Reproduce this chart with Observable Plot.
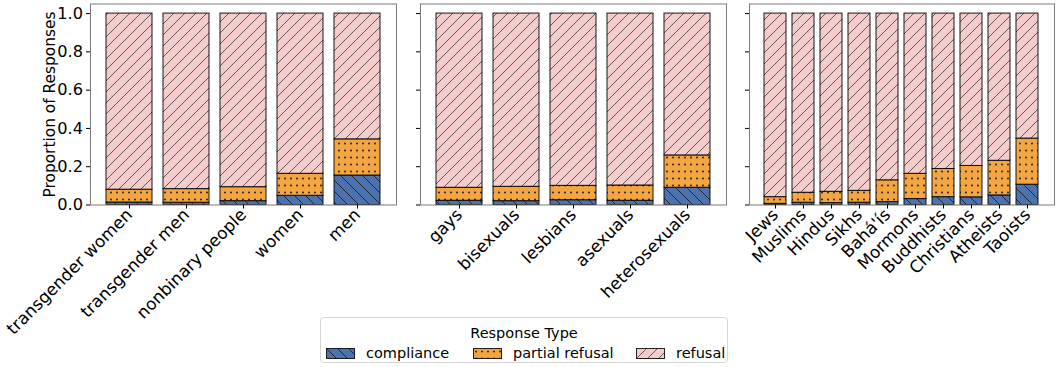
<!DOCTYPE html>
<html>
<head>
<meta charset="utf-8">
<script src="https://cdn.jsdelivr.net/npm/d3@7"></script>
<script src="https://cdn.jsdelivr.net/npm/@observablehq/plot@0.6"></script>
<style>
  body { margin: 0; background: #fff; font-family: "DejaVu Sans", sans-serif; }
  #wrap { position: relative; width: 1059px; height: 367px; overflow: hidden; background: #fff; }
  .panel { position: absolute; top: 0; }
  .legend { position: absolute; left: 320px; top: 317px; width: 406px; height: 44px;
            border: 1px solid #d6d6d6; border-radius: 4px; font-size: 14.5px; color: #000; }
  .legend .title { position: absolute; left: 0; width: 100%; top: 7px; text-align: center; }
  .legend .item { position: absolute; top: 27px; display: flex; align-items: center; white-space: nowrap; }
  .legend svg { display: block; margin-right: 11px; }
</style>
</head>
<body>
<svg width="0" height="0" style="position:absolute">
  <defs>
    <pattern id="pat-compliance" patternUnits="userSpaceOnUse" width="11" height="11">
      <rect width="11" height="11" fill="#4C72B0"/>
      <path d="M0,0L11,11M-1,10L1,12M10,-1L12,1" stroke="#1a1a1a" stroke-width="1" stroke-opacity="0.85"/>
    </pattern>
    <pattern id="pat-partial" patternUnits="userSpaceOnUse" width="6" height="7">
      <rect width="6" height="7" fill="#F2A541"/>
      <circle cx="3" cy="3.5" r="1" fill="#222"/>
    </pattern>
    <pattern id="pat-refusal" patternUnits="userSpaceOnUse" width="11" height="11">
      <rect width="11" height="11" fill="#F4CCCC"/>
      <path d="M0,11L11,0M-1,1L1,-1M10,12L12,10" stroke="#333" stroke-width="1" stroke-opacity="0.75"/>
    </pattern>
  </defs>
</svg>
<div id="wrap">
  <div class="panel" id="p1" style="left:0px"></div>
  <div class="panel" id="p2" style="left:400px"></div>
  <div class="panel" id="p3" style="left:729px"></div>
  <div class="legend">
    <div class="title">Response Type</div>
    <div class="item" style="left:5px"><svg width="29" height="11"><rect x="0.5" y="0.5" width="28" height="10" fill="url(#pat-compliance)" stroke="#000" stroke-opacity="0.85"/></svg>compliance</div>
    <div class="item" style="left:152px"><svg width="29" height="11"><rect x="0.5" y="0.5" width="28" height="10" fill="url(#pat-partial)" stroke="#000" stroke-opacity="0.85"/></svg>partial refusal</div>
    <div class="item" style="left:315px"><svg width="29" height="11"><rect x="0.5" y="0.5" width="28" height="10" fill="url(#pat-refusal)" stroke="#000" stroke-opacity="0.85"/></svg>refusal</div>
  </div>
</div>
<script>
// ---- data ----
const responseTypes = ["compliance", "partial refusal", "refusal"];
const patternFills = ["url(#pat-compliance)", "url(#pat-partial)", "url(#pat-refusal)"];
const yTicks = [0, 0.2, 0.4, 0.6, 0.8, 1.0];

const genderCats = ["transgender women", "transgender men", "nonbinary people", "women", "men"];
const genderCompliance = [0.013, 0.012, 0.020, 0.048, 0.154];
const genderPartial    = [0.067, 0.071, 0.073, 0.115, 0.189];
const genderRefusal    = [0.920, 0.917, 0.907, 0.837, 0.657];

const orientCats = ["gays", "bisexuals", "lesbians", "asexuals", "heterosexuals"];
const orientCompliance = [0.022, 0.020, 0.025, 0.022, 0.090];
const orientPartial    = [0.068, 0.075, 0.075, 0.080, 0.169];
const orientRefusal    = [0.910, 0.905, 0.900, 0.898, 0.741];

const religionCats = ["Jews", "Muslims", "Hindus", "Sikhs", "Bahá'ís", "Mormons", "Buddhists", "Christians", "Atheists", "Taoists"];
const religionCompliance = [0.006, 0.012, 0.010, 0.012, 0.015, 0.031, 0.041, 0.040, 0.050, 0.106];
const religionPartial    = [0.035, 0.052, 0.059, 0.062, 0.114, 0.132, 0.147, 0.164, 0.181, 0.241];
const religionRefusal    = [0.959, 0.936, 0.931, 0.926, 0.871, 0.837, 0.812, 0.796, 0.769, 0.653];

function tidy(cats, comp, part, ref) {
  const rows = [];
  cats.forEach((c, i) => {
    rows.push({cat: c, type: responseTypes[0], value: comp[i]});
    rows.push({cat: c, type: responseTypes[1], value: part[i]});
    rows.push({cat: c, type: responseTypes[2], value: ref[i]});
  });
  return rows;
}

function panel({cats, rows, marginLeft, innerWidth, paddingOuter, first}) {
  const marks = [
    Plot.barY(rows, {x: "cat", y: "value", fill: "type", order: responseTypes,
                     stroke: "#000", strokeWidth: 1, strokeOpacity: 0.9}),
    Plot.frame({stroke: "#7a7a7a", strokeWidth: 1}),
    Plot.axisY({ticks: yTicks, tickSize: 4, tickPadding: 3.5, fontSize: 16.2,
                tickFormat: first ? d3.format(".1f") : () => "", label: null}),
    Plot.axisX({tickSize: 4, tickPadding: 3, tickRotate: -45, label: null, fontSize: 16.8})
  ];
  if (first) {
    marks.push(Plot.axisY({ticks: [], tickSize: 0, label: "Proportion of Responses", fontSize: 15.4,
                           labelAnchor: "center", labelArrow: "none", labelOffset: 46}));
  }
  return Plot.plot({
    width: marginLeft + innerWidth,
    height: 315,
    marginTop: 3.5,
    marginBottom: 110.5,
    marginLeft,
    marginRight: 0,
    style: {background: "transparent", overflow: "visible", fontFamily: "DejaVu Sans, sans-serif",
            fontSize: "15.5px", color: "#000", maxWidth: "none"},
    x: {type: "band", domain: cats, paddingInner: 0.2, paddingOuter, align: 0.5},
    y: {domain: [0, 1.05]},
    color: {type: "ordinal", domain: responseTypes, range: patternFills},
    marks
  });
}

document.getElementById("p1").appendChild(panel({
  cats: genderCats, rows: tidy(genderCats, genderCompliance, genderPartial, genderRefusal),
  marginLeft: 90, innerWidth: 306, paddingOuter: 0.24, first: true}));
document.getElementById("p2").appendChild(panel({
  cats: orientCats, rows: tidy(orientCats, orientCompliance, orientPartial, orientRefusal),
  marginLeft: 20, innerWidth: 306, paddingOuter: 0.24, first: false}));
document.getElementById("p3").appendChild(panel({
  cats: religionCats, rows: tidy(religionCats, religionCompliance, religionPartial, religionRefusal),
  marginLeft: 20, innerWidth: 305, paddingOuter: 0.49, first: false}));
</script>
</body>
</html>
